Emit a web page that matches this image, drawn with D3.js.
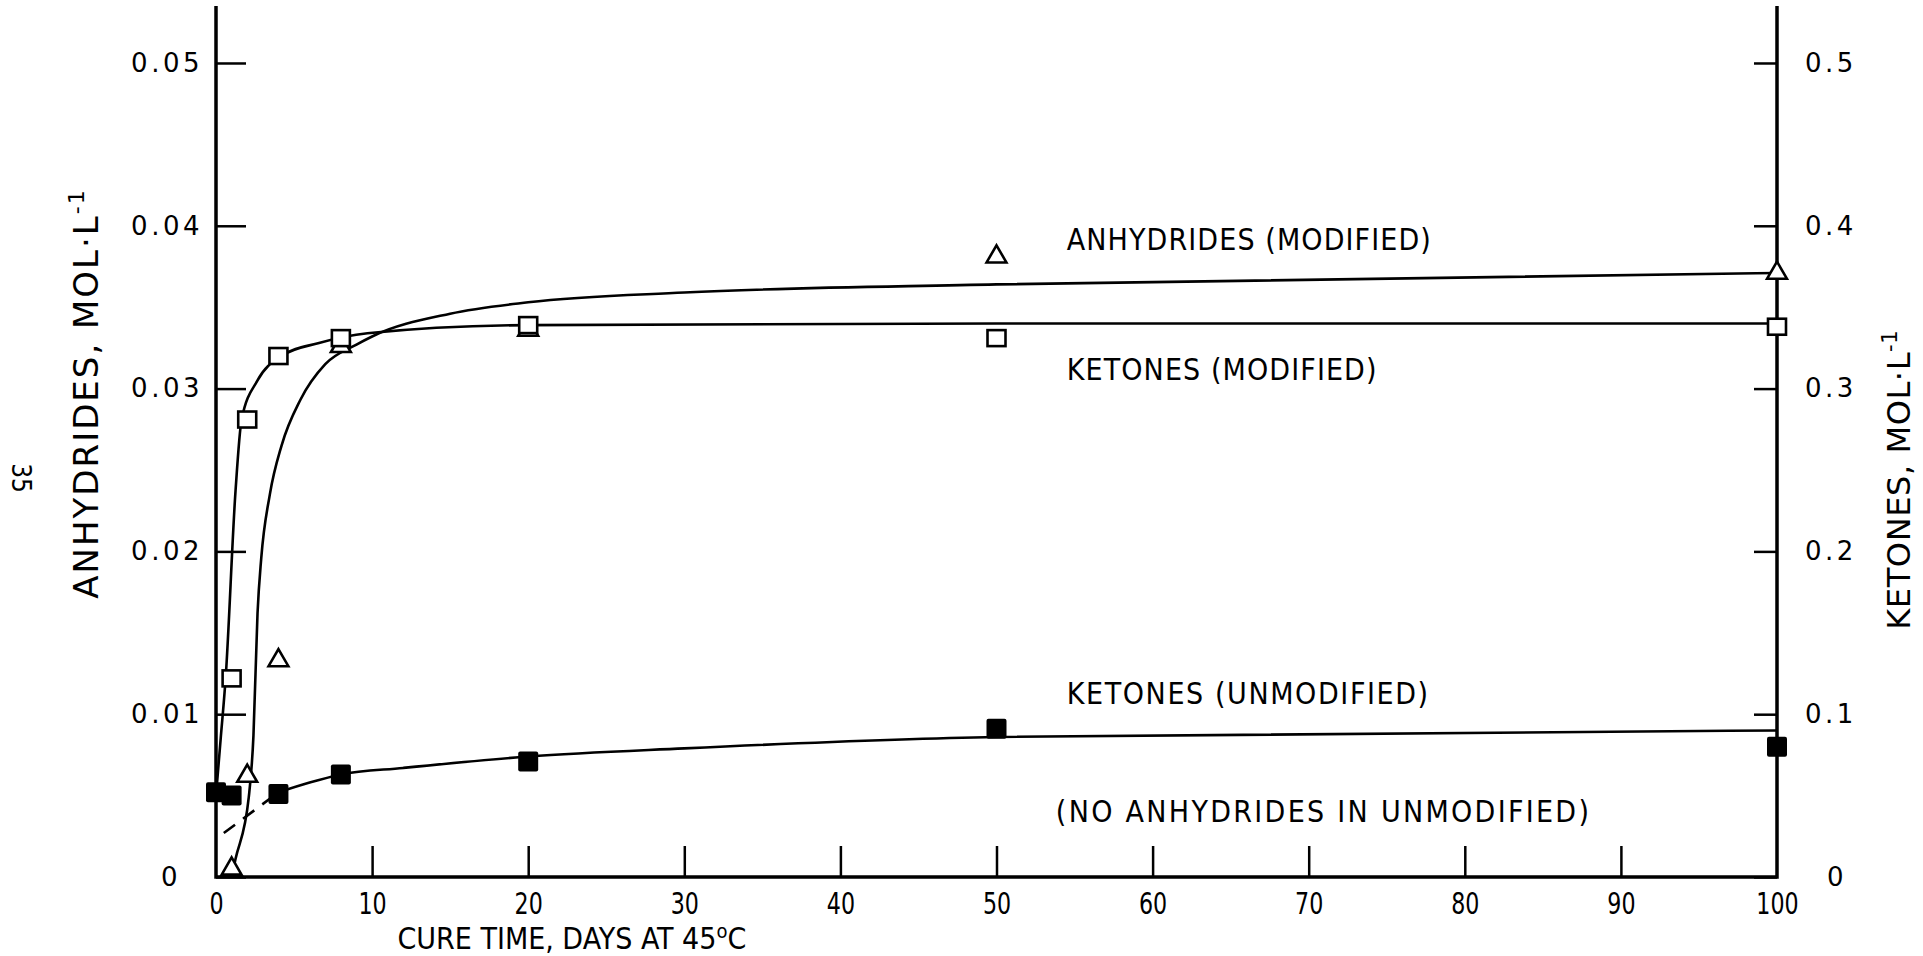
<!DOCTYPE html>
<html>
<head>
<meta charset="utf-8">
<script src="https://cdn.jsdelivr.net/npm/d3@7"></script>
<style>
	html, body { margin: 0; padding: 0; background: #fff; }
	svg { display: block; }
	.tick text { fill: #000; }
	.num { font-family: "DejaVu Sans", sans-serif; font-size: 26px; letter-spacing: 3.5px; }
	.reg { font-family: "DejaVu Sans", sans-serif; }
	.cond { font-family: "DejaVu Sans Condensed", "DejaVu Sans", sans-serif; }
</style>
</head>
<body>
<script>
// days of cure at 45 C
const xTicks = [0, 10, 20, 30, 40, 50, 60, 70, 80, 90, 100];
const anhTicks = [0, 0.01, 0.02, 0.03, 0.04, 0.05];
const ketTicks = [0, 0.1, 0.2, 0.3, 0.4, 0.5];

// measured points (anhydrides on left axis, ketones on right axis)
const anhModDays = [1, 2, 4, 8, 20, 50, 100];
const anhModVals = [0.0005, 0.0062, 0.0133, 0.0326, 0.0336, 0.0381, 0.0371];

const ketModDays = [1, 2, 4, 8, 20, 50, 100];
const ketModVals = [0.122, 0.281, 0.320, 0.331, 0.339, 0.331, 0.338];

const ketUnmodDays = [0, 1, 4, 8, 20, 50, 100];
const ketUnmodVals = [0.052, 0.050, 0.051, 0.063, 0.071, 0.091, 0.080];

// hand drawn fit curves
const anhCurveDays = [1, 1.25, 2.1, 2.4, 2.66, 2.9, 3.45, 4.2, 5.4, 7, 9, 10, 15, 20, 30, 50, 100];
const anhCurveVals = [0, 0.0011, 0.0049, 0.0087, 0.0162, 0.0196, 0.0235, 0.0265, 0.0293, 0.0315, 0.0327, 0.0332, 0.0346, 0.0353, 0.0359, 0.0364, 0.0371];

const ketModCurveDays = [0, 0.3, 0.62, 1.25, 1.64, 2.66, 4.2, 6.6, 9.7, 20, 50, 100];
const ketModCurveVals = [0.05, 0.085, 0.1225, 0.237, 0.281, 0.305, 0.32, 0.328, 0.334, 0.339, 0.34, 0.34];

const ketUnmodCurveDays = [4, 6, 8, 12, 20, 30, 50, 100];
const ketUnmodCurveVals = [0.052, 0.058, 0.063, 0.067, 0.074, 0.079, 0.086, 0.09];

const ketUnmodDashDays = [0.5, 4];
const ketUnmodDashVals = [0.027, 0.052];

// curve labels: day, anhydride-axis value, text
const notes = [
	[54.5, 0.0385, "ANHYDRIDES (MODIFIED)"],
	[54.5, 0.0305, "KETONES (MODIFIED)"],
	[54.5, 0.0106, "KETONES (UNMODIFIED)"],
	[53.8, 0.0034, "(NO ANHYDRIDES IN UNMODIFIED)"],
];

const zip = (xs, ys) => xs.map((d, i) => ({ x: d, y: ys[i] }));

let options = {
	width: 1923,
	height: 956,
	left: 216,
	right: 1777,
	top: 6,
	bottom: 877,
};

let scale = {
	x: d3.scaleLinear().domain([0, 100]).range([options.left, options.right]),
	a: d3.scaleLinear().domain([0, 0.0535]).range([options.bottom, options.top]),
	k: d3.scaleLinear().domain([0, 0.535]).range([options.bottom, options.top]),
};

let svg = d3.select("body").append("svg")
	.attr("width", options.width)
	.attr("height", options.height)
	.attr("viewBox", `0 0 ${options.width} ${options.height}`);

// axes
let axisA = d3.axisLeft(scale.a)
	.tickValues(anhTicks)
	.tickSize(-30)
	.tickSizeOuter(0)
	.tickPadding(13)
	.tickFormat(d => d === 0 ? "0" : d3.format(".2f")(d));

let gA = svg.append("g")
	.attr("class", "axis num")
	.attr("transform", `translate(${options.left},0)`)
	.call(axisA);

let axisK = d3.axisRight(scale.k)
	.tickValues(ketTicks)
	.tickSize(-23)
	.tickSizeOuter(0)
	.tickPadding(28)
	.tickFormat(d => d === 0 ? "0" : d3.format(".1f")(d));

let gK = svg.append("g")
	.attr("class", "axis num")
	.attr("transform", `translate(${options.right},0)`)
	.call(axisK);

let axisX = d3.axisBottom(scale.x)
	.tickValues(xTicks)
	.tickSize(-31)
	.tickSizeOuter(0)
	.tickPadding(16);

let gX = svg.append("g")
	.attr("class", "axis reg")
	.attr("transform", `translate(0,${options.bottom})`)
	.call(axisX);

svg.selectAll(".axis").attr("font-family", null).attr("font-size", null);
gX.attr("font-size", 30);
// the x labels are set in a narrow face
gX.selectAll(".tick text").attr("transform", "scale(0.74,1)");
svg.selectAll(".axis .domain").remove();
svg.selectAll(".axis line").attr("stroke", "#000").attr("stroke-width", 2.5);
// ends of x axis carry no tick mark
gX.selectAll(".tick").filter(d => d === 0 || d === 100).select("line").remove();
// zero labels sit a bit off the others
gA.selectAll(".tick").filter(d => d === 0).select("text").attr("dx", -22);
gK.selectAll(".tick").filter(d => d === 0).select("text").attr("dx", 22);

// frame: two vertical axes and the bottom line
let frame = svg.append("g")
	.attr("stroke", "#000")
	.attr("stroke-width", 3.5)
	.attr("fill", "none");

frame.append("path")
	.attr("d", `M${scale.x(0)},${scale.a.range()[1]}V${scale.a(0)}H${scale.x(100)}V${scale.k.range()[1]}`);

// curves
let line = d3.line()
	.x(d => scale.x(d.x))
	.curve(d3.curveMonotoneX);

let curves = svg.append("g")
	.attr("fill", "none")
	.attr("stroke", "#000")
	.attr("stroke-width", 2.6);

curves.append("path")
	.datum(zip(anhCurveDays, anhCurveVals))
	.attr("d", line.y(d => scale.a(d.y)));

curves.append("path")
	.datum(zip(ketModCurveDays, ketModCurveVals))
	.attr("d", line.y(d => scale.k(d.y)));

curves.append("path")
	.datum(zip(ketUnmodCurveDays, ketUnmodCurveVals))
	.attr("d", line.y(d => scale.k(d.y)));

curves.append("path")
	.datum(zip(ketUnmodDashDays, ketUnmodDashVals))
	.attr("stroke-dasharray", "14,10")
	.attr("d", line.y(d => scale.k(d.y)));

// markers
let tri = d3.symbol().type(d3.symbolTriangle).size(170);

svg.append("g")
	.selectAll("path")
	.data(zip(anhModDays, anhModVals))
	.join("path")
		.attr("transform", d => `translate(${scale.x(d.x)},${scale.a(d.y)})`)
		.attr("d", tri)
		.attr("fill", "#fff")
		.attr("stroke", "#000")
		.attr("stroke-width", 2.6);

svg.append("g")
	.selectAll("rect")
	.data(zip(ketModDays, ketModVals))
	.join("rect")
		.attr("x", d => scale.x(d.x) - 9)
		.attr("y", d => scale.k(d.y) - 8)
		.attr("width", 18)
		.attr("height", 16)
		.attr("fill", "#fff")
		.attr("stroke", "#000")
		.attr("stroke-width", 2.6);

svg.append("g")
	.selectAll("rect")
	.data(zip(ketUnmodDays, ketUnmodVals))
	.join("rect")
		.attr("x", d => scale.x(d.x) - 10)
		.attr("y", d => scale.k(d.y) - 10)
		.attr("width", 20)
		.attr("height", 20)
		.attr("rx", 2)
		.attr("fill", "#000");

// curve labels
svg.append("g")
	.attr("class", "cond")
	.attr("font-size", 30)
	.selectAll("text")
	.data(notes)
	.join("text")
		.attr("x", d => scale.x(d[0]))
		.attr("y", d => scale.a(d[1]))
		.attr("letter-spacing", d => d[2].length > 25 ? 2.3 : d[2].length === 20 ? 1.6 : 1.1)
		.text(d => d[2]);

// axis titles
let title = svg.append("g")
	.attr("class", "reg")
	.attr("text-anchor", "middle");

let tl = title.append("text")
	.attr("font-size", 34)
	.attr("letter-spacing", 2)
	.attr("transform", `translate(98,${scale.a(0.0297)}) rotate(-90)`);
tl.append("tspan").text("ANHYDRIDES, MOL·L");
tl.append("tspan").attr("dy", -14).attr("font-size", 22).text("-1");

let tr = title.append("text")
	.attr("font-size", 32)
	.attr("letter-spacing", 0.6)
	.attr("transform", `translate(1910,${scale.k(0.244)}) rotate(-90)`);
tr.append("tspan").text("KETONES, MOL·L");
tr.append("tspan").attr("dy", -13).attr("font-size", 21).text("-1");

let tb = svg.append("text")
	.attr("class", "cond")
	.attr("font-size", 30)
	.attr("text-anchor", "middle")
	.attr("x", scale.x(22.8))
	.attr("y", 949);
tb.append("tspan").text("CURE TIME, DAYS AT 45");
tb.append("tspan").attr("dy", -11).attr("font-size", 20).text("o");
tb.append("tspan").attr("dy", 11).text("C");

// page number on the scanned sheet
svg.append("text")
	.attr("class", "cond")
	.attr("font-size", 26)
	.attr("text-anchor", "middle")
	.attr("transform", `translate(12,478) rotate(90)`)
	.text("35");
</script>
</body>
</html>
